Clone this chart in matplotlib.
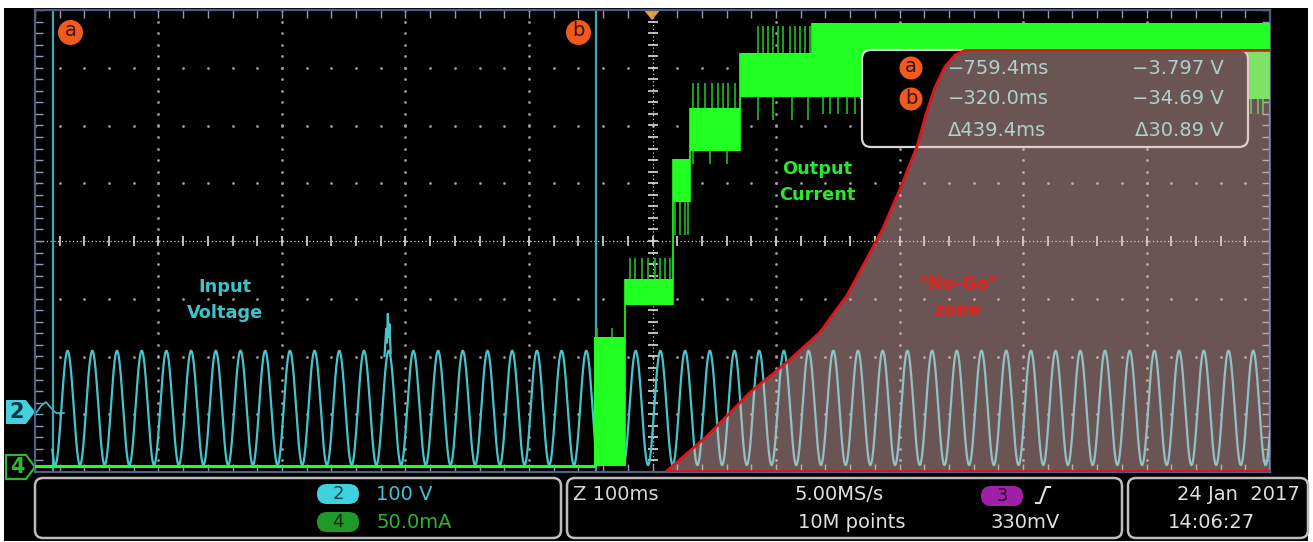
import numpy as np
import matplotlib.pyplot as plt
from matplotlib.patches import FancyBboxPatch, Polygon, Rectangle, Circle

W, H = 1313, 542

# time axis in ms (100 ms/div), vertical axis in divisions
t_left, t_right = -774.0, 226.0
t_center = -274.0

cursor_t = [-759.4, -320.0]
cursor_names = ['a', 'b']
cursor_label_dt = [14.0, -14.0]
readout_left = ['\u2212759.4ms', '\u2212320.0ms', '\u0394439.4ms']
readout_right = ['\u22123.797 V', '\u221234.69 V', '\u039430.89 V']

# channel 2 - input voltage, 100 V/div
ch2_pos = -2.94
ch2_v_per_div = 100.0
vin_period = 20.0
vin_peak_t = -267.6
vin_peak_v = 104.0
vin_trough_v = -94.0
vin_start = -760.0
glitch_t = [-491.0, -489.6, -489.0, -488.3, -487.6, -487.0, -486.0]
glitch_v = [95, 142, 118, 168, 128, 150, 100]

# channel 4 - output current, 50 mA/div
ch4_pos = -3.90
ch4_ma_per_div = 50.0
step_t0 = [-321.0, -296.0, -257.5, -243.5, -203.0, -145.0, -106.0]
step_t1 = [-296.0, -257.5, -243.5, -203.0, -145.0, -106.0, 226.0]
step_lo = [0, 140, 229, 273, 320, 320, 318]
step_hi = [112, 162, 266, 310, 358, 384, 384]

spike_t = [
    [-319.0, -307.0],
    [-292.0, -288.0, -282.5, -277.5, -272.0, -268.0, -264.0, -260.0],
    [-256.0, -252.0, -248.0, -245.0],
    [-241.0, -237.0, -231.5, -226.0, -221.0, -217.0, -213.0, -207.0],
    [-188.5, -184.5, -180.5, -176.5, -172.5, -168.0, -162.5, -158.5, -154.5, -150.5, -146.5],
    [-136.0, -130.0, -124.0, -116.5, -110.0],
    [211.0, 216.0, 220.0],
]
spike_base = [112, 162, 229, 310, 358, 320, 318]
spike_tip = [120, 180, 200, 332, 381, 305, 305]
low_spike_t = [-241.2, -227.4, -213.7, -188.6, -176.4, -161.0, -148.0]
low_spike_base = [273, 273, 273, 320, 320, 320, 320]
low_spike_tip = [262, 262, 262, 300, 300, 300, 300]

# "No-Go" boundary, mA on the channel 4 scale
nogo_t = [-262.3, -229.9, -195.0, -165.1, -138.4, -116.5, -100.3, -87.4, -73.6, -59.8,
          -52.5, -45.3, -37.2, -29.1, -21.0, 226.0]
nogo_ma = [-4, 26, 64, 90, 116, 148, 180, 206, 240, 277, 305, 328, 346, 356, 360, 360]

cyan = '#45c4cc'
green = '#22ff22'
green_dim = '#1fae1f'
orange = '#f05a1e'


def ch4(ma):
    return ch4_pos + np.asarray(ma, dtype=float) / ch4_ma_per_div


def ch2(v):
    return ch2_pos + np.asarray(v, dtype=float) / ch2_v_per_div


fig = plt.figure(figsize=(W / 100, H / 100), dpi=100, facecolor='white')
scr = fig.add_axes([0, 0, 1, 1])
scr.set_xlim(0, W)
scr.set_ylim(H, 0)
scr.axis('off')
scr.add_patch(Rectangle((4, 8), 1304, 533, fc='black', ec='none'))

ax = fig.add_axes([35 / W, (H - 472) / H, 1235 / W, 462 / H], zorder=2)
ax.set_facecolor('none')
ax.set_xlim(t_left, t_right)
ax.set_ylim(-4, 4)
ax.set_xticks([])
ax.set_yticks([])
for s in ax.spines.values():
    s.set_color('#4f5f85')
    s.set_linewidth(1.6)

# graticule
sub_t = np.arange(t_left, t_right + 0.1, 20)
sub_y = np.arange(-4, 4.01, 0.2)
for x in np.arange(t_left + 100, t_right - 1, 100):
    if abs(x - t_center) < 1:
        continue
    ax.plot(np.full_like(sub_y, x), sub_y, ls='none', marker='o', ms=2.0, mew=0, color='#9c9c9c')
for y in range(-3, 4):
    if y == 0:
        continue
    ax.plot(sub_t, np.full_like(sub_t, y), ls='none', marker='o', ms=2.0, mew=0, color='#9c9c9c')
ax.axvline(t_center, color='#cfcfcf', lw=0.9, ls=(0, (1, 2)))
ax.axhline(0, color='#cfcfcf', lw=0.9, ls=(0, (1, 2)))
ax.plot(np.full_like(sub_y, t_center), sub_y, ls='none', marker='_', ms=7, mew=1.2, color='#dcdcdc')
ax.plot(sub_t, np.zeros_like(sub_t), ls='none', marker='|', ms=7, mew=1.2, color='#dcdcdc')
for edge in (t_left, t_right):
    ax.plot(np.full_like(sub_y, edge), sub_y, ls='none', marker='_', ms=12, mew=1, color='#8f9bb8')
for edge in (-4, 4):
    ax.plot(sub_t, np.full_like(sub_t, edge), ls='none', marker='|', ms=12, mew=1, color='#8f9bb8')

# cursors
for ct, name, dt in zip(cursor_t, cursor_names, cursor_label_dt):
    ax.axvline(ct, color='#3aa9b5', lw=1.6, zorder=2.5)
    ax.plot(ct + dt, 3.62, 'o', ms=18, color=orange, mew=0, zorder=6)
    ax.text(ct + dt, 3.64, name, ha='center', va='center', fontsize=14, color='#3a1510', zorder=7)

# channel 2 trace
t = np.linspace(vin_start, t_right, 8000)
mid = (vin_peak_v + vin_trough_v) / 2
amp = (vin_peak_v - vin_trough_v) / 2
vin = mid + amp * np.cos(2 * np.pi * (t - vin_peak_t) / vin_period)
ax.plot(t, ch2(vin), color=cyan, lw=1.6, zorder=3)
ax.plot(glitch_t, ch2(glitch_v), color=cyan, lw=1.6, zorder=3)

# channel 4 trace
ax.plot([t_left, step_t0[0]], ch4([0, 0]), color=green, lw=2.2, zorder=4)
for t0, t1, lo, hi in zip(step_t0, step_t1, step_lo, step_hi):
    ax.fill_between([t0, t1], ch4([lo, lo]), ch4([hi, hi]), color=green, lw=0, zorder=4)
for ts, b, tip in zip(spike_t, spike_base, spike_tip):
    ax.vlines(ts, ch4(b), ch4(tip), color=green_dim, lw=1.3, zorder=4)
ax.vlines(low_spike_t, ch4(low_spike_base), ch4(low_spike_tip), color=green_dim, lw=1.3, zorder=4)
ax.vlines(step_t0[1], ch4(0), ch4(step_hi[1]), color=green, lw=1.2, zorder=4)
for i in range(2, 6):
    ax.vlines(step_t0[i], ch4(step_lo[i - 1]), ch4(step_hi[i]), color=green, lw=1.2, zorder=4)

# cursor readout box
px = scr.transData
ax.add_patch(FancyBboxPatch((862, 50), 386, 97, boxstyle='round,pad=0,rounding_size=9',
                            fc='black', ec='#d8d8d8', lw=1.6, transform=px, zorder=5))
for i, name in enumerate(cursor_names):
    ax.add_patch(Circle((911, 68 + 31 * i), 11.5, fc=orange, ec='none', transform=px, zorder=6))
    ax.text(911, 67 + 31 * i, name, ha='center', va='center', fontsize=14, color='#3a1510',
            transform=px, zorder=6)
for i, (l, r) in enumerate(zip(readout_left, readout_right)):
    y = [68, 99, 130][i]
    ax.text(948, y, l, ha='left', va='center', fontsize=14, color='#7fdede', transform=px, zorder=6)
    ax.text(1224, y, r, ha='right', va='center', fontsize=14, color='#7fdede', transform=px, zorder=6)

# no-go zone
poly = list(zip(nogo_t, ch4(nogo_ma))) + [(t_right, ch4(nogo_ma[0]))]
ax.add_patch(Polygon(poly, closed=True, fc=(238 / 255, 191 / 255, 187 / 255), alpha=0.45, ec='none', zorder=7))
ax.plot(nogo_t, ch4(nogo_ma), color='#e0141a', lw=2, zorder=8)
ax.plot([nogo_t[0], t_right], ch4([nogo_ma[0], nogo_ma[0]]), color='#e0141a', lw=2, zorder=8)

# annotations
ax.text(-620.2, -1.02, 'Input\nVoltage', ha='center', va='center', fontsize=12.8, fontweight='bold',
        color='#3fc3cb', linespacing=1.55, zorder=9)
ax.text(-140.8, 1.02, 'Output\nCurrent', ha='center', va='center', fontsize=12.8, fontweight='bold',
        color='#2ee62e', linespacing=1.55, zorder=9)
ax.text(-26.6, -0.97, '"No-Go"\nzone', ha='center', va='center', fontsize=12.8, fontweight='bold',
        color='#e4221c', linespacing=1.55, zorder=9)

# trigger marker and channel markers
scr.add_patch(Polygon([(643, 9), (661, 9), (652, 20)], closed=True, fc='#f0a030', ec='none'))
scr.add_patch(Polygon([(6, 400), (26, 400), (35, 412), (26, 424), (6, 424)], closed=True,
                      fc='#45d0dc', ec='none'))
scr.text(17, 412, '2', ha='center', va='center', fontsize=15, fontweight='bold', color='#0b3346')
scr.add_patch(Polygon([(6, 455), (26, 455), (35, 467), (26, 479), (6, 479)], closed=True,
                      fc='black', ec='#2fb52f', lw=1.6))
scr.text(17, 467, '4', ha='center', va='center', fontsize=15, fontweight='bold', color='#2fb52f')
scr.plot([36, 41, 46, 51, 56, 64], [413, 406, 402, 408, 413, 413], color=cyan, lw=1.2)

# bottom status panel
for x0, w in ((35, 526), (567, 555), (1128, 180)):
    scr.add_patch(FancyBboxPatch((x0, 478), w, 60, boxstyle='round,pad=0,rounding_size=8',
                                 fc='black', ec='#bdbdbd', lw=1.8))
for (x0, y0, fc, label, tc) in ((317, 484, '#3ed2e0', '2', '#0a3a50'),
                                (317, 512, '#1f9a2a', '4', '#0a2a0a'),
                                (981, 486, '#a020a8', '3', '#300030')):
    scr.add_patch(FancyBboxPatch((x0, y0), 42, 20, boxstyle='round,pad=0,rounding_size=10',
                                 fc=fc, ec='none'))
    scr.text(x0 + 21, y0 + 10, label, ha='center', va='center', fontsize=13, color=tc)
scr.plot([1036, 1040, 1046, 1050], [503, 503, 487, 487], color='#e0e0e0', lw=1.5)

status = [
    (376, 494, '100 V', 'left', '#3fc6d0'),
    (376, 522, '50.0mA', 'left', '#2fb52f'),
    (573, 494, 'Z 100ms', 'left', '#d8d8d8'),
    (795, 494, '5.00MS/s', 'left', '#e0e0e0'),
    (798, 522, '10M points', 'left', '#e0e0e0'),
    (990, 522, '330mV', 'left', '#e0e0e0'),
    (1300, 494, '24 Jan  2017', 'right', '#e0e0e0'),
    (1168, 522, '14:06:27', 'left', '#e0e0e0'),
]
for x, y, s, ha, c in status:
    scr.text(x, y, s, ha=ha, va='center', fontsize=14, color=c)

fig.savefig('out.png', dpi=100, facecolor='white')
